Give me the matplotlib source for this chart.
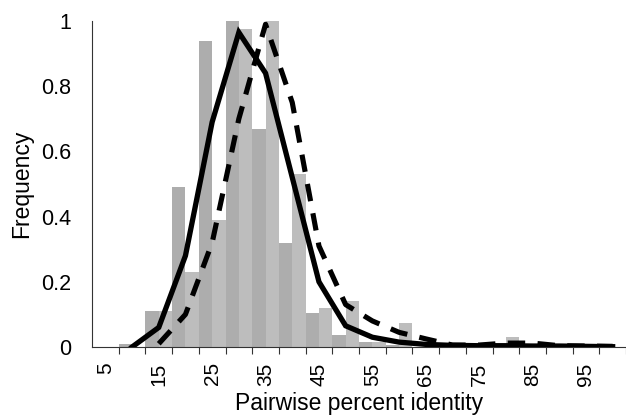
import matplotlib
matplotlib.use("Agg")
import matplotlib.pyplot as plt
import numpy as np

# Categories: pairwise percent identity bins
categories = [5, 10, 15, 20, 25, 30, 35, 40, 45, 50, 55, 60, 65, 70, 75, 80, 85, 90, 95, 100]
tick_labels = ["5", "15", "25", "35", "45", "55", "65", "75", "85", "95"]

# Histogram bars (two series, side by side in each bin)
bars_solid = [0, 0.01, 0.11, 0.49, 0.94, 1.0, 0.67, 0.32, 0.105, 0.037,
              0.015, 0.005, 0, 0, 0, 0, 0, 0, 0, 0]
bars_dashed = [0, 0, 0.11, 0.23, 0.39, 0.976, 1.0, 0.53, 0.12, 0.14,
               0.015, 0.075, 0, 0, 0, 0.03, 0.005, 0, 0, 0]

# Curves (NaN = no point)
line_solid = [np.nan, 0.0, 0.06, 0.28, 0.69, 0.965, 0.84, 0.52, 0.20, 0.065,
              0.03, 0.015, 0.008, 0.005, 0.004, 0.004, 0.003, 0.003, 0.002, 0.001]
line_dashed = [np.nan, np.nan, 0.01, 0.10, 0.32, 0.70, 0.99, 0.75, 0.31, 0.13,
               0.08, 0.045, 0.025, 0.006, 0.006, 0.012, 0.012, 0.004, 0.003, 0.002]

plt.rcParams['font.family'] = ['Liberation Sans', 'DejaVu Sans']

fig = plt.figure(figsize=(6.26, 4.19), dpi=100)
ax = fig.add_axes([92/626, 72/419, 534/626, 326/419])

x = np.arange(len(categories))
ax.bar(x - 0.25, bars_solid, width=0.5, color='#adadad', linewidth=0, zorder=1)
ax.bar(x + 0.25, bars_dashed, width=0.5, color='#bdbdbd', linewidth=0, zorder=1)

ax.plot(x, line_dashed, color='black', linewidth=3.7, linestyle=(0, (3.4, 2.4)),
        dash_capstyle='butt', zorder=3)
ax.plot(x, line_solid, color='black', linewidth=3.8, solid_joinstyle='miter', zorder=4)

ax.set_xlim(-0.5, len(categories) - 0.5)
ax.set_ylim(0, 1)

# x ticks: marks at bin boundaries, labels at every other bin center
ax.set_xticks(np.arange(0.5, len(categories), 1.0))
ax.set_xticklabels([])
ax.tick_params(axis='x', which='major', length=5, width=0.8, color='#333333', direction='out')
ax.set_xticks(np.arange(0, len(categories), 2), minor=True)
ax.set_xticklabels(tick_labels, minor=True, rotation=90, fontsize=15)
ax.tick_params(axis='x', which='minor', length=0, pad=11)

ax.set_yticks([0, 0.2, 0.4, 0.6, 0.8, 1.0])
ax.set_yticklabels(["0", "0.2", "0.4", "0.6", "0.8", "1"], fontsize=15.5)
ax.tick_params(axis='y', length=0, pad=15)

for s in ['top', 'right']:
    ax.spines[s].set_visible(False)
for s in ['left', 'bottom']:
    ax.spines[s].set_linewidth(0.8)
    ax.spines[s].set_color('#333333')

ax.set_xlabel("Pairwise percent identity", fontsize=16.5, labelpad=5)
ax.set_ylabel("Frequency", fontsize=16.5, labelpad=6)

fig.savefig("out.png", dpi=100)
